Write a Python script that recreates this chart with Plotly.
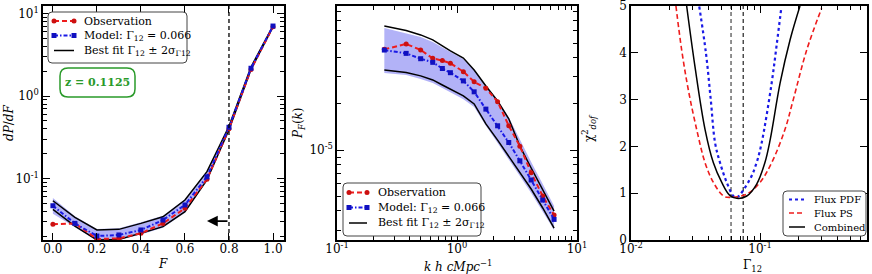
import numpy as np
import plotly.graph_objects as go

# ---------------- Panel 1 : flux PDF ----------------
F = [0.0, 0.1, 0.2, 0.3, 0.4, 0.5, 0.6, 0.7, 0.8, 0.9, 1.0]
pdf_obs = [0.0279, 0.0286, 0.0185, 0.0188, 0.0217, 0.0286, 0.0435, 0.098, 0.40, 2.10, 6.90]
pdf_model = [0.0468, 0.0286, 0.0201, 0.0207, 0.0238, 0.0314, 0.0478, 0.105, 0.418, 2.17, 7.05]
pdf_fit_hi = [0.0538, 0.0339, 0.0238, 0.0242, 0.0286, 0.0344, 0.0548, 0.121, 0.43, 2.25, 7.10]
pdf_fit_lo = [0.0423, 0.0265, 0.0180, 0.0183, 0.0217, 0.0261, 0.0396, 0.096, 0.39, 2.10, 6.90]
pdf_band_hi = [0.0580, 0.0350, 0.0245, 0.0250, 0.0295, 0.0355, 0.0560, 0.123, 0.435, 2.27, 7.15]
pdf_band_lo = [0.0375, 0.0255, 0.0177, 0.0180, 0.0210, 0.0253, 0.0385, 0.094, 0.385, 2.08, 6.85]
F_cut = 0.8
arrow_F = [0.8, 0.70]
arrow_y = 0.0305
redshift_label = "z = 0.1125"

# ---------------- Panel 2 : flux power spectrum ----------------
k = [0.248, 0.377, 0.498, 0.628, 0.755, 0.881, 1.13, 1.39, 1.74, 2.18, 2.70, 3.34, 4.15, 5.18, 6.44]
ps_obs = [4.55e-5, 4.93e-5, 4.51e-5, 3.97e-5, 3.84e-5, 3.69e-5, 3.25e-5, 2.79e-5, 2.53e-5, 2.07e-5,
          1.44e-5, 1.06e-5, 7.11e-6, 5.0e-6, 3.76e-6]
ps_model = [4.50e-5, 4.28e-5, 3.95e-5, 3.74e-5, 3.41e-5, 3.20e-5, 2.83e-5, 2.40e-5, 1.85e-5, 1.44e-5,
            1.12e-5, 8.5e-6, 6.37e-6, 4.71e-6, 3.52e-6]
ps_fit_hi = [6.46e-5, 6.04e-5, 5.65e-5, 5.24e-5, 4.79e-5, 4.44e-5, 3.99e-5, 3.33e-5, 2.62e-5, 2.09e-5,
             1.60e-5, 1.06e-5, 7.63e-6, 5.48e-6, 3.99e-6]
ps_fit_lo = [3.33e-5, 3.21e-5, 3.05e-5, 2.87e-5, 2.66e-5, 2.51e-5, 2.26e-5, 2.00e-5, 1.48e-5, 1.16e-5,
             9.14e-6, 7.18e-6, 5.56e-6, 4.18e-6, 3.09e-6]
ps_band_hi = [6.27e-5, 5.82e-5, 5.48e-5, 5.08e-5, 4.71e-5, 4.37e-5, 3.94e-5, 3.33e-5, 2.66e-5, 2.12e-5,
              1.64e-5, 1.16e-5, 8.35e-6, 6.0e-6, 4.31e-6]
ps_band_lo = [3.18e-5, 3.09e-5, 2.91e-5, 2.74e-5, 2.54e-5, 2.39e-5, 2.15e-5, 1.91e-5, 1.44e-5, 1.11e-5,
              8.73e-6, 6.76e-6, 5.24e-6, 3.99e-6, 3.0e-6]

# ---------------- Panel 3 : chi^2 curves ----------------
g_pdf = [0.0338, 0.0381, 0.0415, 0.0448, 0.049, 0.0552, 0.0621, 0.066, 0.0836, 0.094, 0.103, 0.123, 0.135, 0.146]
chi_pdf = [4.99, 3.99, 3.0, 2.08, 1.65, 1.23, 0.94, 0.91, 1.30, 1.65, 2.08, 3.35, 4.2, 4.95]
g_ps = [0.0223, 0.0247, 0.0278, 0.0323, 0.0375, 0.0435, 0.052, 0.058, 0.0789, 0.10, 0.123, 0.156, 0.181, 0.23, 0.30]
chi_ps = [5.0, 4.06, 3.21, 2.36, 1.65, 1.23, 0.94, 0.91, 0.98, 1.23, 1.65, 2.36, 3.0, 4.06, 4.95]
g_comb = [0.027, 0.0313, 0.0375, 0.0435, 0.0505, 0.058, 0.066, 0.0789, 0.094, 0.109, 0.12, 0.143, 0.171, 0.204]
chi_comb = [5.0, 3.71, 2.36, 1.65, 1.23, 0.96, 0.89, 0.94, 1.19, 1.65, 2.15, 3.35, 4.28, 5.0]
gamma_marks = [0.0596, 0.0741]

# legend labels
NAME_OBS = "Observation"
NAME_MOD = "Model: Γ<sub>12</sub> = 0.066"
NAME_FIT = "Best fit Γ<sub>12</sub> ± 2σ<sub>Γ12</sub>"
NAMES_CHI = ["Flux PDF", "Flux PS", "Combined"]

RED = "#ee1c1c"
BLUE = "#1a1ae6"
BAND = "rgba(20,20,230,0.33)"
FONT = "DejaVu Serif"
RED_DASH = "5px,3px"
BLUE_DASH = "4px,2px,1.5px,2px"
OBS_STYLE = dict(line=dict(color=RED, width=2, dash=RED_DASH), marker=dict(symbol="circle", size=5, color="#cc1010"))
MOD_STYLE = dict(line=dict(color=BLUE, width=2, dash=BLUE_DASH), marker=dict(symbol="square", size=5, color="#1010c0"))
FIT_LINE = dict(color="black", width=1.5)
PDF_LINE = dict(color=BLUE, width=2.2, dash="dot")
PS_LINE = dict(color=RED, width=1.6, dash=RED_DASH)
COMB_LINE = dict(color="black", width=1.5)

fig = go.Figure()

def band(x, lo, hi, xa, ya):
    fig.add_trace(go.Scatter(x=x, y=hi, mode="lines", line=dict(width=0), showlegend=False,
                             hoverinfo="skip", xaxis=xa, yaxis=ya))
    fig.add_trace(go.Scatter(x=x, y=lo, mode="lines", line=dict(width=0), fill="tonexty",
                             fillcolor=BAND, showlegend=False, hoverinfo="skip", xaxis=xa, yaxis=ya))

def main_lines(x, obs, mod, hi, lo, xa, ya):
    for yy in (hi, lo):
        fig.add_trace(go.Scatter(x=x, y=yy, mode="lines", line=FIT_LINE, showlegend=False, xaxis=xa, yaxis=ya))
    fig.add_trace(go.Scatter(x=x, y=obs, mode="lines+markers", showlegend=False, xaxis=xa, yaxis=ya,
                             name=NAME_OBS, **OBS_STYLE))
    fig.add_trace(go.Scatter(x=x, y=mod, mode="lines+markers", showlegend=False, xaxis=xa, yaxis=ya,
                             name=NAME_MOD, **MOD_STYLE))

band(F, pdf_band_lo, pdf_band_hi, "x", "y")
main_lines(F, pdf_obs, pdf_model, pdf_fit_hi, pdf_fit_lo, "x", "y")
band(k, ps_band_lo, ps_band_hi, "x2", "y2")
main_lines(k, ps_obs, ps_model, ps_fit_hi, ps_fit_lo, "x2", "y2")

for gm, col in zip(gamma_marks, ["#555555", "#333333"]):
    fig.add_trace(go.Scatter(x=[gm, gm], y=[0, 5], mode="lines", line=dict(color=col, width=1.3, dash="4px,3px"),
                             showlegend=False, hoverinfo="skip", xaxis="x3", yaxis="y3"))
fig.add_trace(go.Scatter(x=g_pdf, y=chi_pdf, mode="lines", line=dict(shape="spline", **PDF_LINE),
                         name=NAMES_CHI[0], showlegend=False, xaxis="x3", yaxis="y3"))
fig.add_trace(go.Scatter(x=g_ps, y=chi_ps, mode="lines", line=dict(shape="spline", **PS_LINE),
                         name=NAMES_CHI[1], showlegend=False, xaxis="x3", yaxis="y3"))
fig.add_trace(go.Scatter(x=g_comb, y=chi_comb, mode="lines", line=dict(shape="spline", **COMB_LINE),
                         name=NAMES_CHI[2], showlegend=False, xaxis="x3", yaxis="y3"))

YDOM = [1 - 240 / 274, 1 - 6 / 274]
common = dict(showline=True, linecolor="black", linewidth=1.5, mirror="ticks", ticks="inside",
              ticklen=7, tickwidth=1, tickcolor="black", showgrid=False, zeroline=False, automargin=False,
              ticklabeloverflow="allow", tickfont=dict(family=FONT, size=12, color="black"))
xcommon = dict(ticklabelstandoff=-3, **common)

def minor_log(decades, lo, hi):
    vals = []
    for d in decades:
        for m in range(2, 10):
            v = m * 10 ** d
            if lo <= v <= hi:
                vals.append(v)
    return dict(tickmode="array", tickvals=vals, ticks="inside", ticklen=4, tickwidth=1, tickcolor="black", showgrid=False)

W, H = 872.0, 274.0
fig.update_layout(
    width=872, height=274, margin=dict(l=0, r=0, t=0, b=0, pad=0, autoexpand=False),
    paper_bgcolor="white", plot_bgcolor="rgba(0,0,0,0)",
    font=dict(family=FONT, size=12, color="black"), showlegend=False,
    xaxis=dict(domain=[43 / W, 284 / W], range=[-0.045, 1.05], tickmode="array",
               tickvals=[0, 0.2, 0.4, 0.6, 0.8, 1.0], ticktext=["0.0", "0.2", "0.4", "0.6", "0.8", "1.0"],
               anchor="y", **xcommon),
    yaxis=dict(domain=YDOM, type="log", range=[-1.745, 1.091], tickmode="array",
               tickvals=[0.1, 1, 10], ticktext=["10<sup>-1</sup>", "10<sup>0</sup>", "10<sup>1</sup>"],
               minor=minor_log([-2, -1, 0, 1], 0.017, 12.5), anchor="x", **common),
    xaxis2=dict(domain=[337 / W, 577 / W], type="log", range=[-1, 1], tickmode="array",
                tickvals=[0.1, 1, 10], ticktext=["10<sup>-1</sup>", "10<sup>0</sup>", "10<sup>1</sup>"],
                minor=minor_log([-1, 0], 0.1, 10), anchor="y2", **xcommon),
    yaxis2=dict(domain=YDOM, type="log", range=[-5.588, -4.059], tickmode="array",
                tickvals=[1e-5], ticktext=["10<sup>-5</sup>"],
                minor=minor_log([-6, -5], 2.5e-6, 9e-5), anchor="x2", **common),
    xaxis3=dict(domain=[631 / W, 867 / W], type="log", range=[-2, -0.171], tickmode="array",
                tickvals=[0.01, 0.1], ticktext=["10<sup>-2</sup>", "10<sup>-1</sup>"],
                minor=minor_log([-2, -1], 0.01, 0.67), anchor="y3", **xcommon),
    yaxis3=dict(domain=YDOM, range=[0, 5], tickmode="array", tickvals=[0, 1, 2, 3, 4, 5],
                anchor="x3", **common),
    # pixel overlay used only for legend boxes and labels
    xaxis4=dict(domain=[0, 1], range=[0, W], visible=False, fixedrange=True, anchor="y4", automargin=False),
    yaxis4=dict(domain=[0, 1], range=[H, 0], visible=False, fixedrange=True, anchor="x4", automargin=False),
)

# vertical cut line in panel 1
fig.add_shape(type="line", xref="x", yref="y domain", x0=F_cut, x1=F_cut, y0=0, y1=1,
              line=dict(color="black", width=1.3, dash="4px,3px"))
# arrow
fig.add_annotation(x=arrow_F[1], y=np.log10(arrow_y), ax=arrow_F[0], ay=np.log10(arrow_y),
                   xref="x", yref="y", axref="x", ayref="y", text="", showarrow=True,
                   arrowhead=2, arrowsize=1.2, arrowwidth=1.8, arrowcolor="black")

def rounded(x0, y0, x1, y1, r):
    return (f"M {x0 + r},{y0} L {x1 - r},{y0} Q {x1},{y0} {x1},{y0 + r} "
            f"L {x1},{y1 - r} Q {x1},{y1} {x1 - r},{y1} L {x0 + r},{y1} "
            f"Q {x0},{y1} {x0},{y1 - r} L {x0},{y0 + r} Q {x0},{y0} {x0 + r},{y0} Z")

# rounded green box with redshift
fig.add_shape(type="path", xref="x4", yref="y4", path=rounded(60, 68, 135, 97, 8),
              line=dict(color="#2a9a2a", width=1.5), fillcolor="white", layer="below")
fig.add_annotation(x=97.5, y=82.5, xref="x4", yref="y4", xanchor="center", yanchor="middle",
                   text=f"<b>{redshift_label}</b>", showarrow=False,
                   font=dict(family=FONT, size=11, color="#2a9a2a"))

# manual legends
def legend(box, sx0, sx1, tx, rows, entries, fsize):
    fig.add_shape(type="path", xref="x4", yref="y4", path=rounded(*box, 4),
                  line=dict(color="#444444", width=1), fillcolor="white", layer="below")
    for ry, (label, style, mode) in zip(rows, entries):
        fig.add_trace(go.Scatter(x=[sx0, sx1], y=[ry, ry], mode=mode, showlegend=False, hoverinfo="skip",
                                 xaxis="x4", yaxis="y4", **style))
        fig.add_annotation(x=tx, y=ry, xref="x4", yref="y4", xanchor="left", yanchor="middle",
                           text=label, showarrow=False, font=dict(family=FONT, size=fsize, color="black"))

main_entries = [(NAME_OBS, OBS_STYLE, "lines+markers"), (NAME_MOD, MOD_STYLE, "lines+markers"),
                (NAME_FIT, dict(line=FIT_LINE), "lines")]
legend((48, 12, 187, 63), 54, 74, 82, [21, 35.5, 50.5], main_entries, 11)
legend((343, 183, 481, 236), 349, 367, 376, [192.5, 207.5, 223], main_entries, 11)
chi_entries = [(NAMES_CHI[0], dict(line=PDF_LINE), "lines"), (NAMES_CHI[1], dict(line=PS_LINE), "lines"),
               (NAMES_CHI[2], dict(line=COMB_LINE), "lines")]
legend((783, 191, 866, 236), 789, 805, 812, [199.5, 213, 227], chi_entries, 10)

# axis titles
def title(text, x, y, angle=0, size=12):
    fig.add_annotation(x=x, y=y, xref="x4", yref="y4", text=text, showarrow=False,
                       xanchor="center", yanchor="middle",
                       textangle=angle, font=dict(family=FONT, size=size, color="black"))

title("<i>dP</i>/<i>dF</i>", 9, 123, -90)
title("<i>F</i>", 163, 264)
title("<i>P<sub>F</sub></i>(<i>k</i>)", 299, 123, -90)
title("<i>k h cMpc</i><sup>−1</sup>", 458, 266)
title("χ<sup>2</sup><sub><i>dof</i></sub>", 589, 128, -90)
title("Γ<sub>12</sub>", 752, 266)

fig.write_html("out.html", config={"displayModeBar": False},
               post_script="document.body.style.margin='0';document.body.style.padding='0';"
                           "document.body.style.overflow='hidden';")
